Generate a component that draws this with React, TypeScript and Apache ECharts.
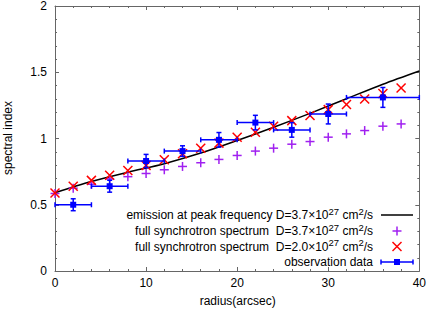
import React, { useEffect, useRef } from "react";
import * as echarts from "echarts";

// Model curve: emission at peak frequency, D=3.7e27
const lineX = [0, 4, 8, 12, 16, 20, 24, 28, 32, 36, 40];
const lineY = [0.59, 0.675, 0.745, 0.81, 0.89, 0.985, 1.085, 1.19, 1.3, 1.41, 1.51];

// Full synchrotron spectrum points
const specX = [0, 2, 4, 6, 8, 10, 12, 14, 16, 18, 20, 22, 24, 26, 28, 30, 32, 34, 36, 38];
const plusY = [0.585, 0.625, 0.655, 0.695, 0.712, 0.736, 0.764, 0.789, 0.817, 0.842, 0.872, 0.905, 0.927, 0.957, 0.977, 1.01, 1.035, 1.06, 1.093, 1.11];
const crossY = [0.589, 0.639, 0.684, 0.722, 0.759, 0.797, 0.84, 0.885, 0.927, 0.965, 1.01, 1.047, 1.093, 1.135, 1.173, 1.218, 1.256, 1.298, 1.34, 1.381];

// Observation data
const obsX = [2, 6, 10, 14, 18, 22, 26, 30, 36];
const obsY = [0.5, 0.64, 0.83, 0.905, 0.99, 1.12, 1.065, 1.185, 1.31];
const obsXErr = [2, 2, 2, 2, 2, 2, 2, 2, 4];
const obsYErr = [0.045, 0.045, 0.05, 0.04, 0.055, 0.055, 0.055, 0.075, 0.075];

// Axis ticks
const xTicks = [0, 10, 20, 30, 40];
const yTicks = [0, 0.5, 1, 1.5, 2];

const legendTexts = [
  ["emission at peak frequency D=3.7×10", "27", " cm", "2", "/s"],
  ["full synchrotron spectrum  D=3.7×10", "27", " cm", "2", "/s"],
  ["full synchrotron spectrum  D=2.0×10", "27", " cm", "2", "/s"],
  ["observation data"],
];

const FONT = "'Liberation Sans', Arial, sans-serif";
const PURPLE = "#a020f0";
const RED = "#ff0000";
const BLUE = "#0000ff";
const FRAME = "#666666";

export default function App() {
  const ref = useRef<HTMLDivElement>(null);
  useEffect(() => {
    if (!ref.current) return;
    const chart = echarts.init(ref.current, null, { renderer: "svg" });

    const mkX = (cx: number, cy: number, h: number, color: string) => [
      { type: "line", shape: { x1: cx - h, y1: cy - h, x2: cx + h, y2: cy + h }, style: { stroke: color, lineWidth: 1.5 } },
      { type: "line", shape: { x1: cx - h, y1: cy + h, x2: cx + h, y2: cy - h }, style: { stroke: color, lineWidth: 1.5 } },
    ];
    const mkPlus = (cx: number, cy: number, h: number, color: string) => [
      { type: "line", shape: { x1: cx - h, y1: cy, x2: cx + h, y2: cy }, style: { stroke: color, lineWidth: 1.5 } },
      { type: "line", shape: { x1: cx, y1: cy - h, x2: cx, y2: cy + h }, style: { stroke: color, lineWidth: 1.5 } },
    ];

    const axisCommon = {
      type: "value" as const,
      axisLine: { show: true, onZero: false, lineStyle: { color: FRAME, width: 1 } },
      axisTick: { show: true, inside: true, length: 4, lineStyle: { color: FRAME } },
      minorTick: { show: true, splitNumber: 5, length: 2, lineStyle: { color: FRAME } },
      splitLine: { show: false },
      minorSplitLine: { show: false },
    };

    const legendY = [215, 231, 246.5, 262];
    const legendX = 373;
    const sampleL = 381;
    const sampleR = 413;
    const sampleC = 397;

    const graphics: any[] = [];
    legendTexts.forEach((parts, i) => {
      let text = "";
      if (parts.length === 1) {
        text = `{a|${parts[0]}}`;
      } else {
        text = `{a|${parts[0]}}{s|${parts[1]}}{a|${parts[2]}}{s|${parts[3]}}{a|${parts[4]}}`;
      }
      graphics.push({
        type: "text",
        x: legendX,
        y: legendY[i],
        z: 100,
        style: {
          text,
          align: "right",
          verticalAlign: "middle",
          rich: {
            a: { fontSize: 12, fontFamily: FONT, fill: "#000", lineHeight: 14 },
            s: { fontSize: 9.5, fontFamily: FONT, fill: "#000", lineHeight: 14, padding: [0, 0, 8, 0] },
          },
        },
      });
    });
    // legend samples
    graphics.push({ type: "line", z: 100, shape: { x1: sampleL, y1: legendY[0], x2: sampleR, y2: legendY[0] }, style: { stroke: "#000", lineWidth: 1.5 } });
    mkPlus(sampleC, legendY[1], 4.5, PURPLE).forEach((e) => graphics.push({ ...e, z: 100 }));
    mkX(sampleC, legendY[2], 4.5, RED).forEach((e) => graphics.push({ ...e, z: 100 }));
    graphics.push({ type: "line", z: 100, shape: { x1: sampleL, y1: legendY[3], x2: sampleR, y2: legendY[3] }, style: { stroke: BLUE, lineWidth: 1.5 } });
    graphics.push({ type: "line", z: 100, shape: { x1: sampleL, y1: legendY[3] - 2.5, x2: sampleL, y2: legendY[3] + 2.5 }, style: { stroke: BLUE, lineWidth: 1.5 } });
    graphics.push({ type: "line", z: 100, shape: { x1: sampleR, y1: legendY[3] - 2.5, x2: sampleR, y2: legendY[3] + 2.5 }, style: { stroke: BLUE, lineWidth: 1.5 } });
    graphics.push({ type: "rect", z: 100, shape: { x: sampleC - 3, y: legendY[3] - 3, width: 6, height: 6 }, style: { fill: BLUE } });

    // axis names
    graphics.push({
      type: "text",
      x: 8,
      y: 138,
      rotation: Math.PI / 2,
      style: { text: "spectral index", fontSize: 12, fontFamily: FONT, fill: "#000", align: "center", verticalAlign: "middle" },
    });
    graphics.push({
      type: "text",
      x: 237.7,
      y: 301,
      style: { text: "radius(arcsec)", fontSize: 12, fontFamily: FONT, fill: "#000", align: "center", verticalAlign: "middle" },
    });

    const option: any = {
      animation: false,
      grid: { left: 55, right: 8.5, top: 5, bottom: 38, containLabel: false },
      xAxis: [
        {
          ...axisCommon,
          position: "bottom",
          min: xTicks[0],
          max: xTicks[xTicks.length - 1],
          interval: 10,
          axisLabel: { color: "#000", fontSize: 12, fontFamily: FONT, margin: 6 },
        },
        {
          ...axisCommon,
          position: "top",
          min: xTicks[0],
          max: xTicks[xTicks.length - 1],
          interval: 10,
          axisLabel: { show: false },
        },
      ],
      yAxis: [
        {
          ...axisCommon,
          position: "left",
          min: yTicks[0],
          max: yTicks[yTicks.length - 1],
          interval: 0.5,
          axisLabel: { color: "#000", fontSize: 12, fontFamily: FONT, margin: 8 },
        },
        {
          ...axisCommon,
          position: "right",
          min: yTicks[0],
          max: yTicks[yTicks.length - 1],
          interval: 0.5,
          axisLabel: { show: false },
        },
      ],
      graphic: graphics,
      series: [
        {
          type: "line",
          data: lineX.map((x, i) => [x, lineY[i]]),
          showSymbol: false,
          smooth: 0.3,
          lineStyle: { color: "#000", width: 1.5 },
          z: 2,
        },
        {
          type: "custom",
          data: specX.map((x, i) => [x, plusY[i]]),
          encode: { x: 0, y: 1 },
          z: 3,
          renderItem: (params: any, api: any) => {
            const c = api.coord([api.value(0), api.value(1)]);
            return { type: "group", children: mkPlus(c[0], c[1], 4.5, PURPLE) };
          },
        },
        {
          type: "custom",
          data: specX.map((x, i) => [x, crossY[i]]),
          encode: { x: 0, y: 1 },
          z: 4,
          renderItem: (params: any, api: any) => {
            const c = api.coord([api.value(0), api.value(1)]);
            return { type: "group", children: mkX(c[0], c[1], 4.5, RED) };
          },
        },
        {
          type: "custom",
          data: obsX.map((x, i) => [x, obsY[i], obsXErr[i], obsYErr[i]]),
          encode: { x: 0, y: 1 },
          z: 5,
          renderItem: (params: any, api: any) => {
            const x = api.value(0), y = api.value(1), ex = api.value(2), ey = api.value(3);
            const c = api.coord([x, y]);
            const l = api.coord([x - ex, y]);
            const r = api.coord([x + ex, y]);
            const t = api.coord([x, y + ey]);
            const b = api.coord([x, y - ey]);
            const st = { stroke: BLUE, lineWidth: 1.5 };
            const cap = 2.5;
            return {
              type: "group",
              children: [
                { type: "line", shape: { x1: l[0], y1: c[1], x2: r[0], y2: c[1] }, style: st },
                { type: "line", shape: { x1: l[0], y1: c[1] - cap, x2: l[0], y2: c[1] + cap }, style: st },
                { type: "line", shape: { x1: r[0], y1: c[1] - cap, x2: r[0], y2: c[1] + cap }, style: st },
                { type: "line", shape: { x1: c[0], y1: t[1], x2: c[0], y2: b[1] }, style: st },
                { type: "line", shape: { x1: c[0] - cap, y1: t[1], x2: c[0] + cap, y2: t[1] }, style: st },
                { type: "line", shape: { x1: c[0] - cap, y1: b[1], x2: c[0] + cap, y2: b[1] }, style: st },
                { type: "rect", shape: { x: c[0] - 3, y: c[1] - 3, width: 6, height: 6 }, style: { fill: BLUE } },
              ],
            };
          },
        },
      ],
    };
    chart.setOption(option);
    return () => chart.dispose();
  }, []);
  return <div ref={ref} style={{ width: 429, height: 309, position: "absolute", left: 0, top: 0 }} />;
}
